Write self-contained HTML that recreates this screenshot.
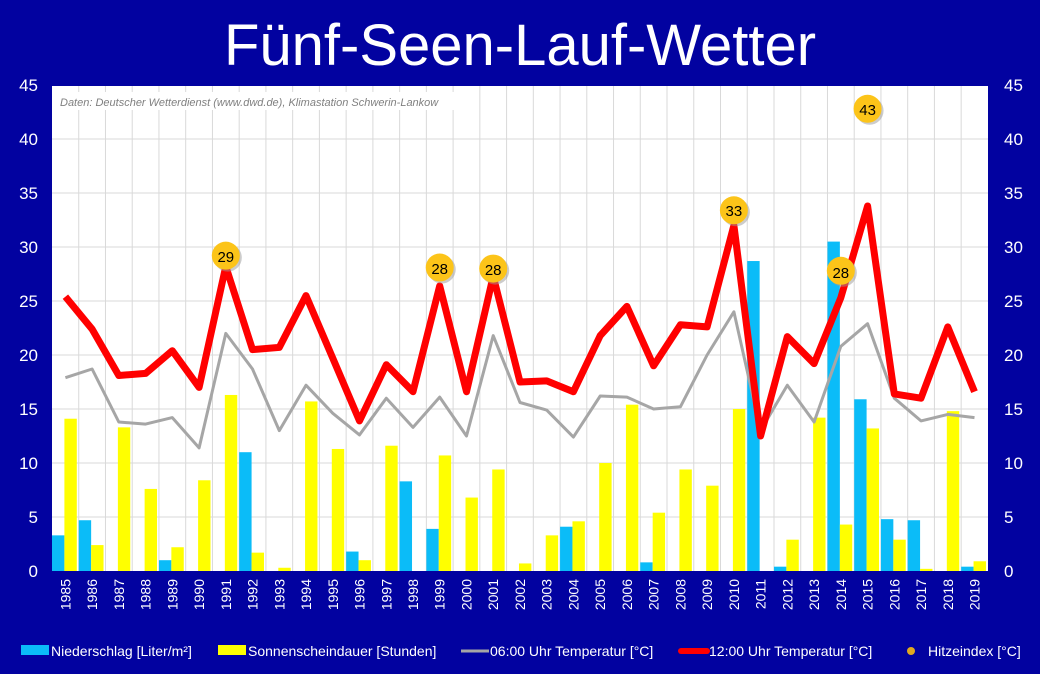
<!DOCTYPE html>
<html><head><meta charset="utf-8"><style>
html,body{margin:0;padding:0;background:#0202a0;}
svg{display:block;font-family:"Liberation Sans",sans-serif;}
</style></head><body>
<svg id="s" width="1040" height="674" viewBox="0 0 1040 674" xmlns="http://www.w3.org/2000/svg">
<rect width="1040" height="674" fill="#0202a0"/>
<text x="520" y="65" text-anchor="middle" fill="#fff" font-size="58">Fünf-Seen-Lauf-Wetter</text>
<rect x="52" y="86" width="936" height="485" fill="#fff"/>
<g id="grid" stroke="#d9d9d9" stroke-width="1"></g>
<rect x="56" y="92" width="420" height="18" fill="#fff"/>
<g id="bars"></g>
<g id="lines"></g>
<text x="60" y="106" font-size="11" font-style="italic" fill="#808080">Daten: Deutscher  Wetterdienst  (www.dwd.de),  Klimastation Schwerin-Lankow</text>
<g fill="#fff" font-size="17" text-anchor="end">
<text x="38" y="577">0</text><text x="38" y="523">5</text><text x="38" y="469">10</text><text x="38" y="415">15</text><text x="38" y="361">20</text><text x="38" y="307">25</text><text x="38" y="253">30</text><text x="38" y="199">35</text><text x="38" y="145">40</text><text x="38" y="91">45</text>
</g>
<g fill="#fff" font-size="17" text-anchor="start">
<text x="1004" y="577">0</text><text x="1004" y="523">5</text><text x="1004" y="469">10</text><text x="1004" y="415">15</text><text x="1004" y="361">20</text><text x="1004" y="307">25</text><text x="1004" y="253">30</text><text x="1004" y="199">35</text><text x="1004" y="145">40</text><text x="1004" y="91">45</text>
</g>
<g fill="#fff" font-size="14" text-anchor="end">
<text transform="translate(70.4,579) rotate(-90)">1985</text>
<text transform="translate(97.1,579) rotate(-90)">1986</text>
<text transform="translate(123.9,579) rotate(-90)">1987</text>
<text transform="translate(150.6,579) rotate(-90)">1988</text>
<text transform="translate(177.3,579) rotate(-90)">1989</text>
<text transform="translate(204.1,579) rotate(-90)">1990</text>
<text transform="translate(230.8,579) rotate(-90)">1991</text>
<text transform="translate(257.6,579) rotate(-90)">1992</text>
<text transform="translate(284.3,579) rotate(-90)">1993</text>
<text transform="translate(311.0,579) rotate(-90)">1994</text>
<text transform="translate(337.8,579) rotate(-90)">1995</text>
<text transform="translate(364.5,579) rotate(-90)">1996</text>
<text transform="translate(391.3,579) rotate(-90)">1997</text>
<text transform="translate(418.0,579) rotate(-90)">1998</text>
<text transform="translate(444.7,579) rotate(-90)">1999</text>
<text transform="translate(471.5,579) rotate(-90)">2000</text>
<text transform="translate(498.2,579) rotate(-90)">2001</text>
<text transform="translate(525.0,579) rotate(-90)">2002</text>
<text transform="translate(551.7,579) rotate(-90)">2003</text>
<text transform="translate(578.4,579) rotate(-90)">2004</text>
<text transform="translate(605.2,579) rotate(-90)">2005</text>
<text transform="translate(631.9,579) rotate(-90)">2006</text>
<text transform="translate(658.7,579) rotate(-90)">2007</text>
<text transform="translate(685.4,579) rotate(-90)">2008</text>
<text transform="translate(712.1,579) rotate(-90)">2009</text>
<text transform="translate(738.9,579) rotate(-90)">2010</text>
<text transform="translate(765.6,579) rotate(-90)">2011</text>
<text transform="translate(792.4,579) rotate(-90)">2012</text>
<text transform="translate(819.1,579) rotate(-90)">2013</text>
<text transform="translate(845.8,579) rotate(-90)">2014</text>
<text transform="translate(872.6,579) rotate(-90)">2015</text>
<text transform="translate(899.3,579) rotate(-90)">2016</text>
<text transform="translate(926.1,579) rotate(-90)">2017</text>
<text transform="translate(952.8,579) rotate(-90)">2018</text>
<text transform="translate(979.5,579) rotate(-90)">2019</text>
</g>
<g id="dots"></g>
<g font-size="15" text-anchor="middle" fill="#000">
<text x="225.8" y="262">29</text>
<text x="439.7" y="274">28</text>
<text x="493.2" y="275">28</text>
<text x="733.9" y="216">33</text>
<text x="840.8" y="278">28</text>
<text x="867.6" y="115">43</text>
</g>
<g font-size="14" fill="#fff">
<rect x="21" y="645" width="28" height="10" fill="#0bbcf8"/>
<text x="51" y="656">Niederschlag [Liter/m²]</text>
<rect x="218" y="645" width="28" height="10" fill="#ffff00"/>
<text x="248" y="656">Sonnenscheindauer [Stunden]</text>
<line x1="461" y1="651" x2="489" y2="651" stroke="#a6a6a6" stroke-width="3"/>
<text x="490" y="656">06:00 Uhr Temperatur [°C]</text>
<line x1="681" y1="651" x2="707" y2="651" stroke="#ff0000" stroke-width="6" stroke-linecap="round"/>
<text x="709" y="656">12:00 Uhr Temperatur [°C]</text>
<circle cx="911" cy="651" r="4" fill="#e0a820"/>
<text x="928" y="656">Hitzeindex [°C]</text>
</g>
</svg>
<script>
var NS="http://www.w3.org/2000/svg";
function el(p,t,a){var e=document.createElementNS(NS,t);for(var k in a)e.setAttribute(k,a[k]);document.getElementById(p).appendChild(e);return e;}
var L=52,W=26.74,Y0=571,S=10.8;
for(var i=1;i<35;i++){var x=L+W*i;el("grid","line",{x1:x,y1:86,x2:x,y2:571});}
for(var v=5;v<=40;v+=5){var y=Y0-S*v;el("grid","line",{x1:52,y1:y,x2:988,y2:y});}
var rain=[3.3,4.7,0,0,1.0,0,0,11.0,0,0,0,1.8,0,8.3,3.9,0,0,0,0,4.1,0,0,0.8,0,0,0,28.7,0.4,0,30.5,15.9,4.8,4.7,0,0.4];
var sun=[14.1,2.4,13.3,7.6,2.2,8.4,16.3,1.7,0.3,15.7,11.3,1.0,11.6,0,10.7,6.8,9.4,0.7,3.3,4.6,10.0,15.4,5.4,9.4,7.9,15.0,0,2.9,14.2,4.3,13.2,2.9,0.2,14.8,0.9];
var t6=[17.9,18.7,13.8,13.6,14.2,11.4,22.0,18.7,13.0,17.2,14.6,12.6,16.0,13.3,16.1,12.5,21.8,15.6,14.9,12.4,16.2,16.1,15.0,15.2,20.0,24.0,13.0,17.2,13.8,20.8,22.9,16.0,13.9,14.5,14.2];
var t12=[25.4,22.4,18.1,18.3,20.4,17.0,28.2,20.5,20.7,25.5,19.7,13.9,19.1,16.6,26.4,16.6,27.3,17.5,17.6,16.6,21.8,24.5,19.0,22.8,22.6,32.0,12.5,21.7,19.2,25.3,33.8,16.4,16.0,22.6,16.6];
for(var i=0;i<35;i++){var x=L+W*i;
 if(rain[i]>0)el("bars","rect",{x:x,y:Y0-S*rain[i],width:12.4,height:S*rain[i],fill:"#0bbcf8"});
 if(sun[i]>0)el("bars","rect",{x:x+12.4,y:Y0-S*sun[i],width:12.4,height:S*sun[i],fill:"#ffff00"});}
function pts(a){return a.map(function(v,i){return (L+W*(i+0.5)).toFixed(1)+","+(Y0-S*v).toFixed(1);}).join(" ");}
el("lines","polyline",{points:pts(t6),fill:"none",stroke:"#a6a6a6","stroke-width":3,"stroke-linejoin":"round"});
el("lines","polyline",{points:pts(t12),fill:"none",stroke:"#ff0000","stroke-width":7,"stroke-linejoin":"round"});
var hi=[[6,29.2],[14,28.1],[16,28.0],[25,33.4],[29,27.8],[30,42.8]];
hi.forEach(function(h){var cx=L+W*(h[0]+0.5),cy=Y0-S*h[1];
 el("dots","circle",{cx:cx+2,cy:cy+2,r:14,fill:"#999","opacity":0.5});
 el("dots","circle",{cx:cx,cy:cy,r:14,fill:"#fcc419"});});
</script>
</body></html>
